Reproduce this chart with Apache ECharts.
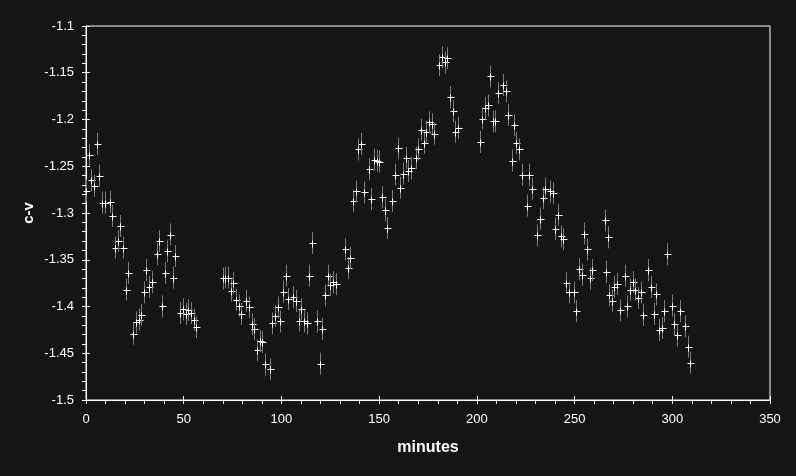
<!DOCTYPE html>
<html><head><meta charset="utf-8">
<script src="https://cdn.jsdelivr.net/npm/echarts@6/dist/echarts.min.js"></script>
<style>html,body{margin:0;padding:0;background:#151515}#c{width:796px;height:476px}</style>
</head><body><div id="c"></div>
<script>
const minutes = [0.2,1.7,2.7,4.2,5.8,6.8,8.3,9.9,12.4,13.5,15.0,16.5,17.5,19.1,20.6,21.6,24.2,25.7,27.0,28.3,29.8,30.8,32.4,33.9,36.5,37.5,39.0,40.6,41.6,43.1,44.7,45.7,48.2,49.8,51.3,52.3,53.9,55.4,56.4,
70.2,71.3,72.8,74.3,75.3,76.9,78.4,79.4,82.0,83.5,85.1,86.1,87.6,89.2,90.2,91.7,94.3,95.3,96.8,98.4,99.4,100.9,102.5,103.5,106.0,107.6,109.1,110.1,111.7,113.2,114.2,115.8,118.3,119.8,120.9,122.4,123.9,125.0,126.5,128.0,
132.6,134.2,135.2,136.7,138.3,139.3,140.8,142.4,144.9,145.9,147.5,149.0,150.0,151.6,153.1,154.1,156.7,158.2,159.7,160.8,162.3,163.8,164.9,166.4,169.0,170.0,171.5,173.0,174.1,175.6,177.1,178.2,180.7,182.3,183.8,184.8,186.3,187.9,188.9,190.4,
201.7,202.7,204.2,205.8,206.8,208.3,209.4,210.9,213.4,215.0,216.0,217.9,219.1,220.1,221.6,223.2,225.7,226.8,228.3,230.8,232.4,233.9,234.9,237.5,239.0,240.1,241.6,243.1,244.2,245.7,247.2,249.8,250.8,252.3,253.9,254.9,256.4,258.0,259.0,
265.6,265.9,267.2,267.4,269.0,270.0,271.5,273.1,275.6,276.7,278.2,279.8,280.8,282.3,283.9,284.9,287.5,289.0,290.6,291.6,293.1,294.7,295.7,297.2,299.8,300.8,302.3,303.9,306.4,308.0,309.0];
const cv = [-1.276,-1.238,-1.265,-1.271,-1.226,-1.260,-1.289,-1.289,-1.288,-1.303,-1.337,-1.330,-1.314,-1.337,-1.382,-1.364,-1.429,-1.417,-1.414,-1.409,-1.385,-1.361,-1.379,-1.374,-1.344,-1.330,-1.400,-1.364,-1.341,-1.323,-1.369,-1.346,-1.407,-1.403,-1.408,-1.404,-1.407,-1.414,-1.422,
-1.370,-1.369,-1.369,-1.383,-1.375,-1.393,-1.399,-1.408,-1.394,-1.401,-1.419,-1.424,-1.447,-1.437,-1.438,-1.462,-1.467,-1.418,-1.410,-1.401,-1.416,-1.384,-1.367,-1.392,-1.390,-1.394,-1.415,-1.403,-1.416,-1.418,-1.367,-1.332,-1.416,-1.461,-1.424,-1.388,-1.367,-1.377,-1.374,-1.376,
-1.339,-1.359,-1.348,-1.287,-1.277,-1.232,-1.226,-1.278,-1.253,-1.285,-1.243,-1.244,-1.245,-1.283,-1.297,-1.316,-1.287,-1.259,-1.231,-1.273,-1.258,-1.241,-1.255,-1.252,-1.241,-1.232,-1.211,-1.225,-1.213,-1.203,-1.205,-1.215,-1.142,-1.1335,-1.139,-1.1345,-1.176,-1.191,-1.213,-1.209,
-1.224,-1.199,-1.188,-1.185,-1.154,-1.202,-1.202,-1.172,-1.163,-1.170,-1.195,-1.244,-1.206,-1.225,-1.232,-1.259,-1.292,-1.259,-1.274,-1.324,-1.306,-1.284,-1.274,-1.277,-1.279,-1.317,-1.302,-1.325,-1.328,-1.375,-1.385,-1.385,-1.405,-1.360,-1.366,-1.322,-1.339,-1.370,-1.361,
-1.308,-1.363,-1.326,-1.388,-1.394,-1.379,-1.376,-1.404,-1.367,-1.400,-1.382,-1.374,-1.382,-1.391,-1.385,-1.409,-1.361,-1.379,-1.408,-1.387,-1.425,-1.423,-1.405,-1.344,-1.399,-1.419,-1.431,-1.405,-1.421,-1.443,-1.460];
const cvError = 0.0118;
const xTicks = {min:0, max:350, interval:50};
const yTicks = {min:-1.5, max:-1.1, interval:0.05};

const data = minutes.map((m,i)=>[m, cv[i], cvError]);
const FONT = '"Liberation Sans", Arial, sans-serif';
const chart = echarts.init(document.getElementById('c'));
const fmtY = v => String(parseFloat(v.toFixed(2)));
chart.setOption({
  backgroundColor:'#151515',
  animation:false,
  grid:{left:86, right:26, top:26, bottom:76, show:true, borderColor:'#fff', borderWidth:1, backgroundColor:'transparent'},
  xAxis:[
    {type:'value', min:xTicks.min, max:xTicks.max, interval:xTicks.interval, position:'bottom',
     name:'minutes', nameLocation:'middle', nameGap:40, nameMoveOverlap:false,
     nameTextStyle:{color:'#fff', fontSize:16, fontWeight:'bold', fontFamily:FONT},
     axisLine:{show:true, lineStyle:{color:'#fff', width:1}},
     axisTick:{show:true, inside:false, length:4, lineStyle:{color:'#fff'}},
     minorTick:{show:true, splitNumber:5, length:4, lineStyle:{color:'#fff'}},
     axisLabel:{color:'#fff', fontSize:13, fontFamily:FONT, margin:13},
     splitLine:{show:false}},
    {type:'value', min:xTicks.min, max:xTicks.max, interval:xTicks.interval, position:'bottom', gridIndex:0,
     axisLine:{show:false}, axisTick:{show:true, inside:true, length:4, lineStyle:{color:'#fff'}},
     axisLabel:{show:false}, splitLine:{show:false}}
  ],
  yAxis:[
    {type:'value', min:yTicks.min, max:yTicks.max, interval:yTicks.interval, position:'left',
     name:'c-v', nameLocation:'middle', nameGap:50, nameRotate:90, nameMoveOverlap:false,
     nameTextStyle:{color:'#fff', fontSize:15, fontWeight:'bold', fontFamily:FONT},
     axisLine:{show:true, lineStyle:{color:'#fff', width:1}},
     axisTick:{show:true, inside:false, length:4, lineStyle:{color:'#fff'}},
     minorTick:{show:true, splitNumber:5, length:4, lineStyle:{color:'#fff'}},
     axisLabel:{color:'#fff', fontSize:13, fontFamily:FONT, margin:12, formatter:fmtY},
     splitLine:{show:false}},
    {type:'value', min:yTicks.min, max:yTicks.max, interval:yTicks.interval, position:'left',
     axisLine:{show:false}, axisTick:{show:true, inside:true, length:4, lineStyle:{color:'#fff'}},
     axisLabel:{show:false}, splitLine:{show:false}}
  ],
  series:[{
    type:'custom', xAxisIndex:0, yAxisIndex:0, data:data,
    renderItem:function(params, api){
      const x = api.value(0), y = api.value(1), e = api.value(2);
      const p = api.coord([x,y]);
      const hi = api.coord([x,y+e]);
      const lo = api.coord([x,y-e]);
      const cx = Math.round(p[0])+0.5, cy = Math.round(p[1])+0.5;
      return {type:'group', children:[
        {type:'line', shape:{x1:cx, y1:hi[1], x2:cx, y2:lo[1]}, style:{stroke:'#7c7c7c', lineWidth:1}},
        {type:'line', shape:{x1:cx-3, y1:cy, x2:cx+4, y2:cy}, style:{stroke:'#fff', lineWidth:1}},
        {type:'line', shape:{x1:cx, y1:cy-3, x2:cx, y2:cy+4}, style:{stroke:'#fff', lineWidth:1}}
      ]};
    }
  }]
});
</script></body></html>
